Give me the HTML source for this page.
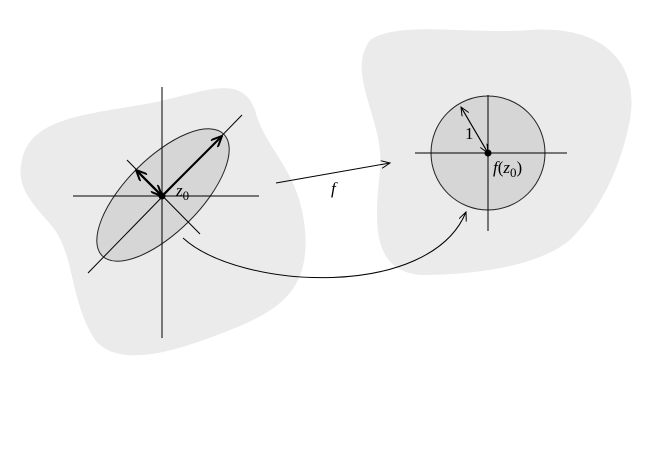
<!DOCTYPE html>
<html><head><style>body{margin:0;background:#fff}svg{display:block}</style></head><body>
<svg width="667" height="456" viewBox="0 0 667 456" xmlns="http://www.w3.org/2000/svg">
<defs>
<marker id="a" markerWidth="10" markerHeight="8" refX="9" refY="4" orient="auto" markerUnits="userSpaceOnUse"><path d="M0,0 L9,4 L0,8" fill="none" stroke="#000" stroke-width="1"/></marker>
<marker id="b" markerWidth="12" markerHeight="10" refX="11" refY="5" orient="auto" markerUnits="userSpaceOnUse"><path d="M0,0 L11,5 L0,10" fill="none" stroke="#000" stroke-width="2"/></marker>
</defs>
<path d="M22,160 C30,120 80,115 140,105 C200,95 240,70 255,110 C265,150 300,170 305,230 C310,290 280,310 230,330 C180,350 120,370 95,340 C70,300 75,260 55,230 C35,205 15,190 22,160 Z" fill="#ebebeb"/>
<path d="M370,40 C400,20 470,35 530,30 C600,25 640,60 630,120 C620,170 600,210 570,240 C540,265 480,275 420,275 C370,270 375,220 380,170 C385,120 345,75 370,40 Z" fill="#ebebeb"/>
<ellipse cx="163" cy="195" rx="86" ry="37" transform="rotate(-45 163 195)" fill="#d6d6d6" stroke="#222" stroke-width="1"/>
<circle cx="488" cy="153" r="57" fill="#d6d6d6" stroke="#222" stroke-width="1"/>
<g stroke="#000" stroke-width="1" fill="none">
<line x1="162" y1="87" x2="162" y2="338"/>
<line x1="73" y1="196" x2="259" y2="196"/>
<line x1="88" y1="273" x2="242" y2="115"/>
<line x1="127" y1="160" x2="200" y2="234"/>
<line x1="415" y1="153" x2="567" y2="153"/>
<line x1="488" y1="95" x2="488" y2="231"/>
<line x1="276" y1="183" x2="390" y2="163" marker-end="url(#a)"/>
<path d="M183,238 C240,290 430,300 466,212" marker-end="url(#a)"/>
<line x1="488" y1="153" x2="461" y2="107" marker-end="url(#a)"/>
<line x1="461" y1="107" x2="488" y2="153" marker-end="url(#a)"/>
</g>
<g stroke="#000" stroke-width="2" fill="none">
<line x1="162" y1="196" x2="222" y2="136" marker-end="url(#b)"/>
<line x1="162" y1="196" x2="136" y2="170" marker-end="url(#b)"/>
<line x1="136" y1="170" x2="162" y2="196" marker-end="url(#b)"/>
</g>
<circle cx="162" cy="196" r="3.5" fill="#000"/>
<circle cx="488" cy="153" r="3.5" fill="#000"/>
<g font-family="Liberation Serif, serif" font-size="17" fill="#000">
<text x="176" y="196" font-style="italic">z<tspan font-style="normal" font-size="13" dy="4">0</tspan></text>
<text x="331" y="194" font-style="italic">f</text>
<text x="465" y="139">1</text>
<text x="493" y="173"><tspan font-style="italic">f</tspan>(<tspan font-style="italic">z</tspan><tspan font-size="13" dy="4">0</tspan><tspan dy="-4">)</tspan></text>
</g>
</svg>
</body></html>
